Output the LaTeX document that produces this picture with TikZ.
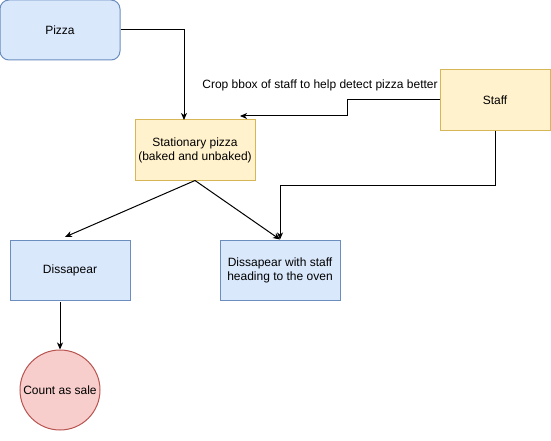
\documentclass[tikz,border=0pt]{standalone}
\usepackage{fontspec}
\setmainfont{Liberation Sans}
\usetikzlibrary{arrows.meta}
\definecolor{bfill}{HTML}{DAE8FC}
\definecolor{bdraw}{HTML}{6C8EBF}
\definecolor{yfill}{HTML}{FFF2CC}
\definecolor{ydraw}{HTML}{D6B656}
\definecolor{rfill}{HTML}{F8CECC}
\definecolor{rdraw}{HTML}{B85450}
\begin{document}
\begin{tikzpicture}[x=1pt,y=-1pt,
  font=\fontsize{12}{14}\selectfont,
  box/.style={draw, line width=1pt, minimum width=120pt, minimum height=60pt, inner sep=0pt, align=center},
  bluebox/.style={box, fill=bfill, draw=bdraw},
  yellowbox/.style={box, fill=yfill, draw=ydraw},
  redcircle/.style={circle, draw=rdraw, fill=rfill, line width=1pt, minimum size=80pt, inner sep=0pt, align=center},
  conn/.style={line width=1pt, -{Stealth[length=7pt,width=6pt,inset=2pt]}}]
\useasboundingbox (0,0) rectangle (551,441);
\node[bluebox, rounded corners=9pt] (pizza) at (60,30) {Pizza};
\node[yellowbox, minimum width=110pt] (staff) at (495,100) {Staff};
\node[yellowbox] (stat) at (195,150) {Stationary pizza\\(baked and unbaked)};
\node[bluebox] (dis) at (70,270) {Dissapear};
\node[bluebox] (diss) at (280,270) {Dissapear with staff\\heading to the oven};
\node[redcircle] (sale) at (60,390) {Count as sale};
\node[anchor=center, inner sep=0pt] (lbl) at (320,85) {Crop bbox of staff to help detect pizza better};
\coordinate (s1) at (347,100);
\coordinate (s2) at (347,116);
\coordinate (t1) at (240,116);
\draw[line width=1pt] (staff.west) -- (s1) -- (s2);
\draw[conn] (s2) -- (t1);
\draw[conn] (pizza.east) -| (184,120);
\draw[conn] (staff.south) |- (280,185) -- (diss.north);
\draw[conn] (stat.south) -- (65,237);
\draw[conn] (stat.south) -- (diss.north);
\draw[conn] (60,302) -- (sale.north);
\end{tikzpicture}
\end{document}
